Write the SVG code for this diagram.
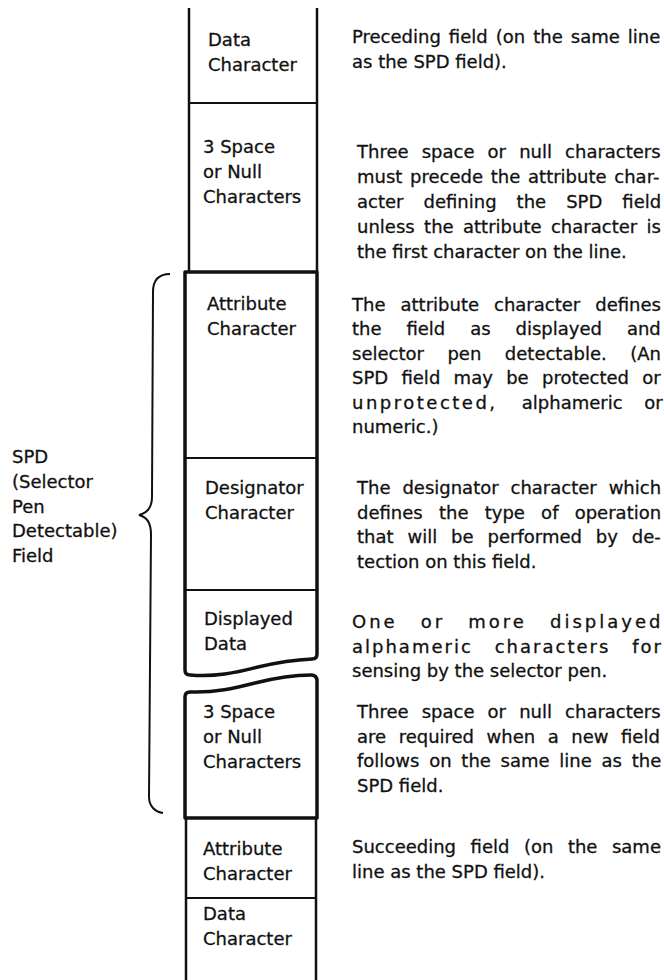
<svg xmlns="http://www.w3.org/2000/svg" width="664" height="980" viewBox="0 0 664 980">
<style>
text{font-family:"DejaVu Sans","Liberation Sans",sans-serif;font-size:18px;fill:#111;stroke:#111;stroke-width:0.3}
.ln{stroke:#111;stroke-width:2.5;fill:none}
.dv{stroke:#111;stroke-width:2;fill:none}
.bx{stroke:#111;stroke-width:3.5;fill:none;stroke-linejoin:round}
.br{stroke:#111;stroke-width:2;fill:none}
</style>
<rect width="664" height="980" fill="#fff"/>
<g id="connectors">
<path class="br" d="M170,274 C158,274 153,280 153,292 L152,497 C152,508 147,513 139,515 C147,517 151,523 151,534 L149,797 C149,806 155,812 163,813"/>
</g>
<g id="top-column">
<path class="ln" d="M189,8 L189,272 M317,8 L317,272"/>
<path class="dv" d="M189,103 L317,103"/>
</g>
<g id="spd-box-upper">
<path class="bx" d="M190,675 Q185,675 185,670 L185,272 L317,272 L317,654 Q317,659 312,659 C290,660 275,663 258,667 C235,673 215,677 190,675 Z"/>
<path class="dv" d="M185,458 L317,458 M185,590 L317,590"/>
</g>
<g id="spd-box-lower">
<path class="bx" d="M185,697 Q185,692 190,692 C215,693 235,688 255,683 C275,678 292,675 311,675 Q317,675 317,681 L317,818 L185,818 Z"/>
</g>
<g id="bottom-column">
<path class="ln" d="M186,818 L186,980 M316,818 L316,980"/>
<path class="dv" d="M186,898 L316,898"/>
</g>
<g id="node-data1"><text x="208" y="46">Data</text><text x="208" y="71">Character</text></g>
<g id="node-space1"><text x="203" y="153">3 Space</text><text x="203" y="178">or Null</text><text x="203" y="203">Characters</text></g>
<g id="node-attr1"><text x="207" y="310">Attribute</text><text x="207" y="335">Character</text></g>
<g id="node-desig"><text x="205" y="494">Designator</text><text x="205" y="519">Character</text></g>
<g id="node-disp"><text x="204" y="625">Displayed</text><text x="204" y="650">Data</text></g>
<g id="node-space2"><text x="203" y="718">3 Space</text><text x="203" y="743">or Null</text><text x="203" y="768">Characters</text></g>
<g id="node-attr2"><text x="203" y="855">Attribute</text><text x="203" y="880">Character</text></g>
<g id="node-data2"><text x="203" y="920">Data</text><text x="203" y="945">Character</text></g>
<g id="spd-label">
<text x="12" y="463">SPD</text><text x="12" y="488">(Selector</text><text x="12" y="513">Pen</text><text x="12" y="537">Detectable)</text><text x="12" y="562">Field</text>
</g>
<g id="desc-1">
<text x="352" y="43" word-spacing="2.3">Preceding field (on the same line</text>
<text x="352" y="68">as the SPD field).</text>
</g>
<g id="desc-2">
<text x="357" y="158" word-spacing="7.4">Three space or null characters</text>
<text x="357" y="183" word-spacing="2">must precede the attribute char-</text>
<text x="357" y="208" word-spacing="14.3">acter defining the SPD field</text>
<text x="357" y="233" word-spacing="3.7">unless the attribute character is</text>
<text x="357" y="258">the first character on the line.</text>
</g>
<g id="desc-3">
<text x="352" y="311" word-spacing="9.3">The attribute character defines</text>
<text x="352" y="335" word-spacing="19.2">the field as displayed and</text>
<text x="352" y="360" word-spacing="17.8">selector pen detectable. (An</text>
<text x="352" y="384" word-spacing="7.6">SPD field may be protected or</text>
<text x="352" y="409" word-spacing="16"><tspan letter-spacing="2.5">unprotected, </tspan>alphameric or</text>
<text x="352" y="433">numeric.)</text>
</g>
<g id="desc-4">
<text x="357" y="494" word-spacing="6.2">The designator character which</text>
<text x="357" y="519" word-spacing="10.5">defines the type of operation</text>
<text x="357" y="543" word-spacing="8.2">that will be performed by de-</text>
<text x="357" y="568">tection on this field.</text>
</g>
<g id="desc-5">
<text x="352" y="628" letter-spacing="3" word-spacing="14.4">One or more displayed</text>
<text x="352" y="653" letter-spacing="2" word-spacing="14.2">alphameric characters for</text>
<text x="352" y="677">sensing by the selector pen.</text>
</g>
<g id="desc-6">
<text x="357" y="718" word-spacing="7.4">Three space or null characters</text>
<text x="357" y="743" word-spacing="6.8">are required when a new field</text>
<text x="357" y="767" word-spacing="4">follows on the same line as the</text>
<text x="357" y="792">SPD field.</text>
</g>
<g id="desc-7">
<text x="352" y="853" word-spacing="8.8">Succeeding field (on the same</text>
<text x="352" y="878">line as the SPD field).</text>
</g>
</svg>
